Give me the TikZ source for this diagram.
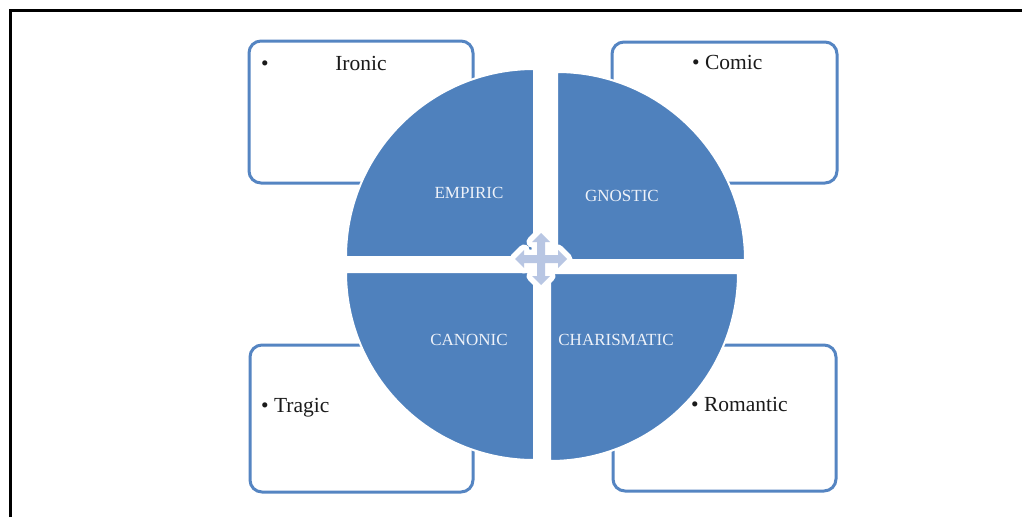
\documentclass[tikz,border=0pt]{standalone}
\usepackage{fontspec}
\setmainfont{Liberation Serif}
\definecolor{quadblue}{HTML}{4F81BD}
\definecolor{boxblue}{HTML}{5585C2}
\definecolor{crossfill}{HTML}{B8C6E3}
\definecolor{labelwhite}{HTML}{EEF2F9}
\definecolor{boxtext}{HTML}{1A1A1A}
\tikzset{
  framebox/.style={draw=boxblue, line width=3pt, fill=white, rounded corners=12pt, inner sep=0pt},
  quad/.style={fill=quadblue, draw=white, line width=2pt},
  quadlabel/.style={text=labelwhite, font=\fontsize{17}{19}\selectfont, inner sep=0pt, anchor=base},
  boxlabel/.style={text=boxtext, font=\fontsize{21.5}{24}\selectfont, inner sep=0pt},
  crossarrow/.style={fill=crossfill, draw=white, line width=11pt, line join=round}
}
\begin{document}
\begin{tikzpicture}[x=1pt,y=-1pt]
\useasboundingbox[fill=white] (0,0) rectangle (1022,517);
% outer frame (top and left edges only)
\draw[line width=3pt, black] (10,517) -- (10,10) -- (1022,10);

% boxes
\node[framebox, minimum width=224pt, minimum height=142pt] (boxIronic) at (361,112) {};
\node[framebox, minimum width=225pt, minimum height=141pt] (boxComic) at (724.5,112.5) {};
\node[framebox, minimum width=223pt, minimum height=147pt] (boxTragic) at (361.5,418.5) {};
\node[framebox, minimum width=223pt, minimum height=146pt] (boxRomantic) at (724.5,418) {};

% box texts
\node[boxlabel, anchor=base] (bulIronic) at (265,70) {•};
\node[boxlabel, anchor=base] (txtIronic) at (361,70) {Ironic};
\node[boxlabel, anchor=base west] (txtComic) at (692,69) {• Comic};
\node[boxlabel, anchor=base west] (txtTragic) at (261,412) {• Tragic};
\node[boxlabel, anchor=base west] (txtRomantic) at (691,411) {• Romantic};

% quadrants
\path[quad] (534,257) -- (346,257) arc[start angle=180, end angle=270, radius=188] -- cycle;
\path[quad] (557,260) -- (557,72) arc[start angle=270, end angle=360, radius=188] -- cycle;
\path[quad] (550,273) -- (738,273) arc[start angle=0, end angle=90, radius=188] -- cycle;
\path[quad] (534,272) -- (534,460) arc[start angle=90, end angle=180, radius=188] -- cycle;

% quadrant labels
\node[quadlabel] (lblEmpiric) at (469,198) {EMPIRIC};
\node[quadlabel] (lblGnostic) at (622,201) {GNOSTIC};
\node[quadlabel] (lblCanonic) at (469,345) {CANONIC};
\node[quadlabel] (lblCharismatic) at (616,345) {CHARISMATIC};

% central four-way arrow
\def\cx{541}\def\cy{259}
\def\crosspath{
  (\cx+26,\cy) -- (\cx+17,\cy-9) -- (\cx+17,\cy-4) -- (\cx+4,\cy-4)
  -- (\cx+4,\cy-17) -- (\cx+9,\cy-17) -- (\cx,\cy-26) -- (\cx-9,\cy-17)
  -- (\cx-4,\cy-17) -- (\cx-4,\cy-4) -- (\cx-17,\cy-4) -- (\cx-17,\cy-9)
  -- (\cx-26,\cy) -- (\cx-17,\cy+9) -- (\cx-17,\cy+4) -- (\cx-4,\cy+4)
  -- (\cx-4,\cy+17) -- (\cx-9,\cy+17) -- (\cx,\cy+26) -- (\cx+9,\cy+17)
  -- (\cx+4,\cy+17) -- (\cx+4,\cy+4) -- (\cx+17,\cy+4) -- (\cx+17,\cy+9) -- cycle}
\path[crossarrow] \crosspath;
\path[fill=crossfill] \crosspath;
\end{tikzpicture}
\end{document}
